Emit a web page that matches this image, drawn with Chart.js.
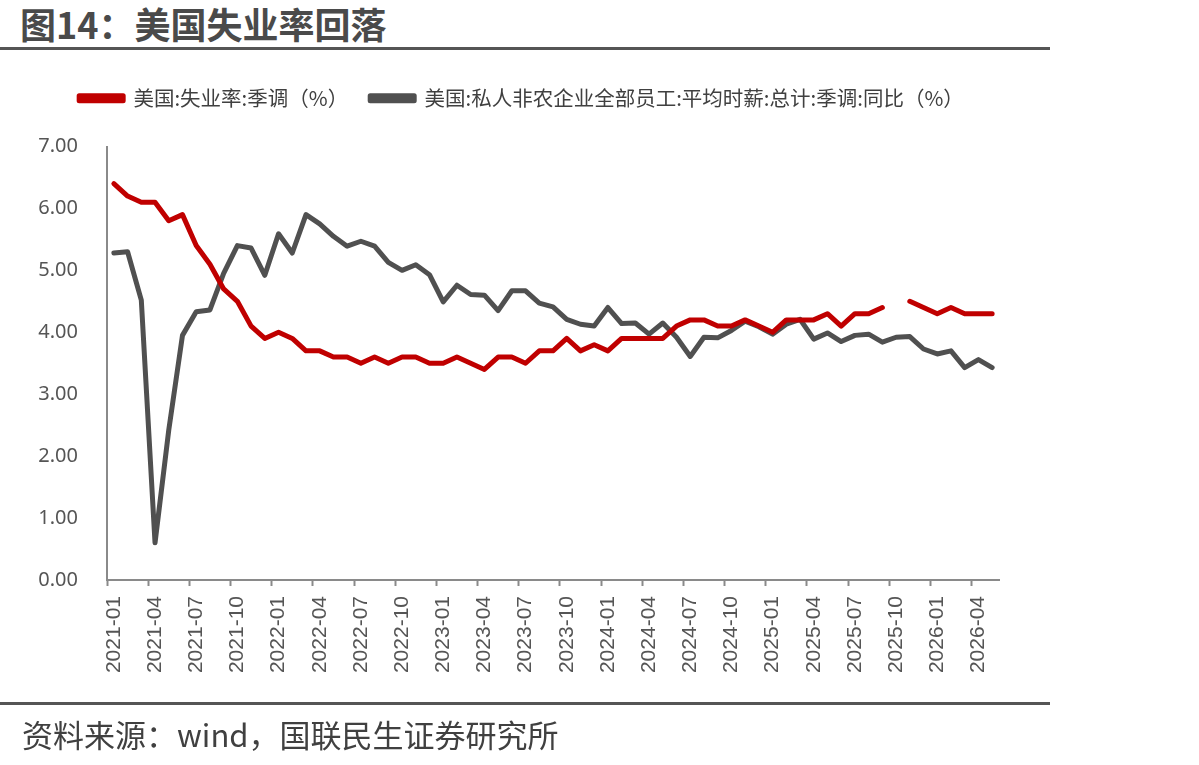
<!DOCTYPE html>
<html>
<head>
<meta charset="utf-8">
<script src="https://cdn.jsdelivr.net/npm/chart.js@4.4.1/dist/chart.umd.min.js"></script>
<style>
    html, body { margin: 0; padding: 0; background: #fff; }
    #page { position: relative; width: 1199px; height: 765px; overflow: hidden; }
    #title {
        position: absolute; left: 20px; top: 1px;
        font: bold 36px "Noto Sans CJK SC", sans-serif; color: #4a4a4a;
        line-height: 44px; white-space: nowrap;
    }
    .rule { position: absolute; left: 0; width: 1050px; height: 3px; background: #555; }
    #source {
        position: absolute; left: 22px; top: 713px;
        font: 31px "Noto Sans CJK SC", sans-serif; color: #404040;
        line-height: 42px; white-space: nowrap;
    }
    #wrap { position: absolute; left: 0; top: 0; width: 1199px; height: 765px; }
</style>
</head>
<body>
<div id="page">
    <div id="title">图14：美国失业率回落</div>
    <div class="rule" style="top:47px"></div>
    <div id="wrap"><canvas id="chart"></canvas></div>
    <div class="rule" style="top:702px"></div>
    <div id="source">资料来源：wind，国联民生证券研究所</div>
</div>
<script>
// months 2021-01 .. 2026-05
var months = [];
for (var y = 2021; y <= 2026; y++) {
    for (var m = 1; m <= 12; m++) {
        if (y === 2026 && m > 5) break;
        months.push(y + '-' + (m < 10 ? '0' + m : m));
    }
}

// 美国:失业率:季调（%）, 2025-10 missing
var unemployment = [
    6.4, 6.2, 6.1, 6.1, 5.8, 5.9, 5.4, 5.1, 4.7, 4.5, 4.1, 3.9,
    4.0, 3.9, 3.7, 3.7, 3.6, 3.6, 3.5, 3.6, 3.5, 3.6, 3.6, 3.5,
    3.5, 3.6, 3.5, 3.4, 3.6, 3.6, 3.5, 3.7, 3.7, 3.9, 3.7, 3.8,
    3.7, 3.9, 3.9, 3.9, 3.9, 4.1, 4.2, 4.2, 4.1, 4.1, 4.2, 4.1,
    4.0, 4.2, 4.2, 4.2, 4.3, 4.1, 4.3, 4.3, 4.4, null, 4.5, 4.4,
    4.3, 4.4, 4.3, 4.3, 4.3
];

// 美国:私人非农企业全部员工:平均时薪:总计:季调:同比（%）
var wageGrowth = [
    5.28, 5.30, 4.52, 0.60, 2.42, 3.95, 4.33, 4.36, 4.95, 5.40, 5.36, 4.92,
    5.59, 5.28, 5.90, 5.75, 5.55, 5.39, 5.47, 5.39, 5.13, 5.00, 5.09, 4.93,
    4.49, 4.76, 4.61, 4.60, 4.35, 4.67, 4.67, 4.47, 4.41, 4.21, 4.13, 4.10,
    4.40, 4.14, 4.15, 3.97, 4.15, 3.92, 3.61, 3.92, 3.91, 4.03, 4.18, 4.09,
    3.97, 4.13, 4.21, 3.89, 3.99, 3.85, 3.95, 3.97, 3.84, 3.92, 3.93, 3.73,
    3.65, 3.70, 3.43, 3.56, 3.43
];

var yTicks = [0, 1, 2, 3, 4, 5, 6, 7];

var RED = '#c00000';
var GREY = '#505050';
var AXIS = '#8a8a8a';

// push the plot area down below the legend, and nudge legend right
var legendGap = {
    id: 'legendGap',
    beforeInit: function (chart) {
        var fit = chart.legend.fit;
        chart.legend.fit = function () {
            fit.call(this);
            this.height += 28;
        };
    },
    afterLayout: function (chart) {
        chart.legend.left += 22;
        chart.legend.right += 22;
    }
};

var ctx = document.getElementById('chart').getContext('2d');
new Chart(ctx, {
    type: 'line',
    data: {
        labels: months,
        datasets: [{
            label: '美国:失业率:季调（%）',
            data: unemployment,
            borderColor: RED,
            backgroundColor: RED,
            borderWidth: 5,
            pointRadius: 0,
            tension: 0,
            spanGaps: false,
            borderJoinStyle: 'round',
            borderCapStyle: 'round'
        }, {
            label: '美国:私人非农企业全部员工:平均时薪:总计:季调:同比（%）',
            data: wageGrowth,
            borderColor: GREY,
            backgroundColor: GREY,
            borderWidth: 5,
            pointRadius: 0,
            tension: 0,
            borderJoinStyle: 'round',
            borderCapStyle: 'round'
        }]
    },
    options: {
        responsive: true,
        maintainAspectRatio: false,
        animation: false,
        layout: { padding: { top: 66, left: 0, right: 200, bottom: 85 } },
        plugins: {
            legend: {
                position: 'top',
                align: 'center',
                labels: {
                    boxWidth: 44,
                    boxHeight: 5,
                    padding: 22,
                    color: '#404040',
                    font: { family: '"Noto Sans CJK SC", sans-serif', size: 20.5 }
                }
            },
            tooltip: { enabled: false }
        },
        scales: {
            x: {
                offset: true,
                grid: {
                    offset: true,
                    drawOnChartArea: false,
                    drawTicks: true,
                    tickLength: 6,
                    tickWidth: 2,
                    tickColor: function (c) {
                        return (c.index !== undefined && c.index % 3 === 0) ? AXIS : 'rgba(0,0,0,0)';
                    }
                },
                border: { display: true, color: AXIS, width: 2 },
                ticks: {
                    autoSkip: false,
                    minRotation: 90,
                    maxRotation: 90,
                    padding: 10,
                    color: '#555',
                    font: { family: '"Liberation Sans", Arial, sans-serif', size: 21 },
                    callback: function (val, idx) {
                        return idx % 3 === 0 ? this.getLabelForValue(val) : '';
                    }
                },
                afterFit: function (s) { s.height = 100; }
            },
            y: {
                min: 0,
                max: 7,
                afterBuildTicks: function (s) {
                    s.ticks = yTicks.map(function (v) { return { value: v }; });
                },
                grid: { display: false, drawTicks: false },
                border: { display: true, color: AXIS, width: 2 },
                ticks: {
                    padding: 29,
                    color: '#555',
                    font: { family: '"Noto Sans", sans-serif', size: 20 },
                    callback: function (v) { return v.toFixed(2); }
                },
                afterFit: function (s) { s.width = 107; }
            }
        }
    },
    plugins: [legendGap]
});
</script>
</body>
</html>
